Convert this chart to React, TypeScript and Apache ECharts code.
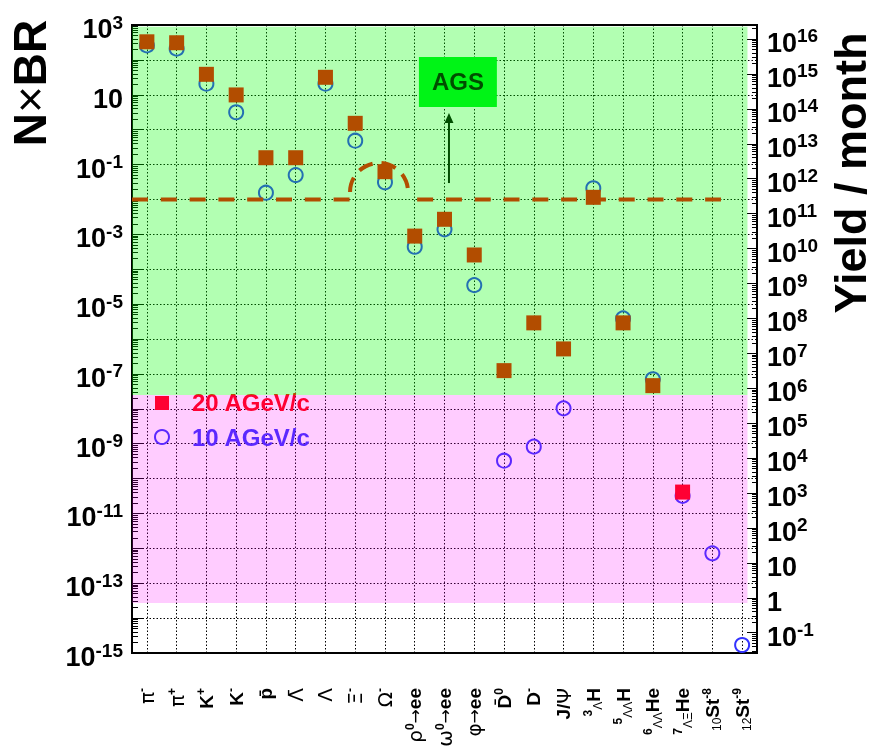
import React, { useEffect, useRef } from 'react';
import * as echarts from 'echarts';

// ---------- data ----------
const categories = ['π⁻', 'π⁺', 'K⁺', 'K⁻', 'p̄', 'Λ̄', 'Λ', 'Ξ⁻', 'Ω⁻', 'ρ⁰→ee', 'ω⁰→ee', 'φ→ee', 'D̄⁰', 'D⁻', 'J/Ψ', '³ΛH', '⁵ΛΛH', '⁶ΛΛHe', '⁷ΛΞHe', '¹⁰St⁻⁸', '¹²St⁻⁹'];

const categoryMarkup = [
  '{g|π}{sp|-}', '{g|π}{sp|+}', '{n|K}{sp|+}', '{n|K}{sp|-}', '{n|p\u0304}', '{g|Λ\u0304}', '{g|Λ}',
  '{g|Ξ}{sp|-}', '{g|Ω}{sp|-}', '{g|ρ}{sp|0}{a|→}{n|ee}', '{g|ω}{sp|0}{a|→}{n|ee}', '{g|φ}{a|→}{n|ee}',
  '{n|D\u0304}{sp|0}', '{n|D}{sp|-}', '{n|J/}{g|Ψ}', '{sp|3}{sb|Λ}{n|H}', '{sp|5}{sb|ΛΛ}{n|H}',
  '{sp|6}{sb|ΛΛ}{n|He}', '{sp|7}{sb|ΛΞ}{n|He}', '{sb|10}{n|St}{sp|-8}', '{sb|12}{n|St}{sp|-9}',
];

// N x BR at 20 AGeV/c (squares)
const nbr20AGeV: (number | null)[] = [330, 310, 38.6, 9.9, 0.157, 0.157, 31.7, 1.52, 0.0625, 8.9e-4, 2.7e-3, 2.56e-4, 1.24e-7, 2.9e-6, 5.2e-7, 0.0115, 2.9e-6, 4.6e-8, 4.1e-11, null, null];
// N x BR at 10 AGeV/c (open circles)
const nbr10AGeV: (number | null)[] = [260, 210, 20.8, 3.15, 0.0156, 0.05, 20.8, 0.483, 0.031, 4.4e-4, 1.39e-3, 3.5e-5, 3.25e-10, 8.2e-10, 1.03e-8, 0.0209, 3.9e-6, 7.0e-8, 3.2e-11, 7.2e-13, 1.7e-15];

const leftLabelExponents = [3, 1, -1, -3, -5, -7, -9, -11, -13, -15];
const rightLabelExponents = [-1, 0, 1, 2, 3, 4, 5, 6, 7, 8, 9, 10, 11, 12, 13, 14, 15, 16];

const thresholdNBR = 1e-2;
const greenBandLow = 2.5e-8;
const pinkBandLow = 2.7e-14;

// ---------- layout ----------
const FONT = '"Liberation Sans", Arial, Helvetica, sans-serif';
const LEFT_RANGE = [-15, 3];
const RIGHT_RANGE = [-1.58, 16.4];
const thresholdSegments = [[0, 7.31], [9.58, 19.79]];

function expLabel(e: number) {
  if (e === 0) return '{b|1}';
  if (e === 1) return '{b|10}';
  return `{b|10}{s|${e}}`;
}

function minorTicks(lo: number, hi: number) {
  const out: number[] = [];
  for (let n = Math.floor(lo) - 1; n <= Math.ceil(hi); n++) {
    for (let k = 2; k <= 9; k++) {
      const t = n + Math.log10(k);
      if (t > lo && t < hi) out.push(t);
    }
  }
  return out;
}

const tickRich = {
  b: { fontSize: 27, fontWeight: 'bold', fontFamily: FONT, color: '#000', lineHeight: 25, padding: [8, 0, 0, 0] },
  s: { fontSize: 19, fontWeight: 'bold', fontFamily: FONT, color: '#000', lineHeight: 18, verticalAlign: 'top' },
};

const gridLineStyle = { color: '#000', width: 1, type: [1.5, 2] as any };

function buildOption() {
  const toE = (v: number | null) => (v == null ? '-' : Math.log10(v));
  return {
    animation: false,
    textStyle: { fontFamily: FONT },
    grid: { left: 132, right: 121, top: 25, bottom: 103, show: true, borderColor: '#000', borderWidth: 2, backgroundColor: 'transparent' },
    xAxis: [
      {
        type: 'category',
        data: categories,
        boundaryGap: true,
        axisLine: { show: false },
        axisTick: { show: false },
        axisLabel: {
          interval: 0,
          rotate: 90,
          margin: 35,
          color: '#000',
          formatter: (_v: string, i: number) => categoryMarkup[i],
          rich: {
            n: { fontSize: 19, fontWeight: 'bold', fontFamily: FONT, color: '#000', lineHeight: 22 },
            g: { fontSize: 20, fontFamily: 'DejaVu Sans, ' + FONT, color: '#000', lineHeight: 22 },
            a: { fontSize: 17, fontFamily: 'DejaVu Sans', color: '#000', lineHeight: 22 },
            sp: { fontSize: 12, fontWeight: 'bold', fontFamily: FONT, color: '#000', lineHeight: 12, verticalAlign: 'top' },
            sb: { fontSize: 12, fontFamily: FONT, color: '#000', lineHeight: 12, verticalAlign: 'bottom' },
          },
        },
        splitLine: { show: true, interval: 0, alignWithLabel: true, lineStyle: gridLineStyle },
      },
      { type: 'value', min: 0, max: 21, show: false },
    ],
    yAxis: [
      {
        type: 'value', min: LEFT_RANGE[0], max: LEFT_RANGE[1], interval: 1, position: 'left',
        axisLine: { show: false },
        axisTick: { show: true, inside: true, length: 12, lineStyle: { color: '#000', width: 1 } },
        axisLabel: {
          margin: 9,
          showMinLabel: true,
          showMaxLabel: true,
          formatter: (v: number) => {
            const e = Math.round(v);
            return leftLabelExponents.includes(e) ? expLabel(e) : '';
          },
          rich: tickRich,
        },
        splitLine: { show: true, lineStyle: gridLineStyle },
      },
      {
        type: 'value', min: RIGHT_RANGE[0], max: RIGHT_RANGE[1], position: 'right',
        axisLine: { show: false },
        axisTick: { show: true, inside: true, length: 10, customValues: rightLabelExponents, lineStyle: { color: '#000', width: 1 } },
        axisLabel: {
          margin: 10,
          showMinLabel: true,
          showMaxLabel: true,
          hideOverlap: false,
          customValues: rightLabelExponents,
          formatter: (v: number) => expLabel(Math.round(v)),
          rich: tickRich,
        },
        splitLine: { show: false },
      },
      {
        type: 'value', min: LEFT_RANGE[0], max: LEFT_RANGE[1], position: 'left',
        axisLine: { show: false }, axisLabel: { show: false }, splitLine: { show: false },
        axisTick: { show: true, inside: true, length: 6, customValues: minorTicks(LEFT_RANGE[0], LEFT_RANGE[1]), lineStyle: { color: '#000', width: 1 } },
      },
      {
        type: 'value', min: RIGHT_RANGE[0], max: RIGHT_RANGE[1], position: 'right',
        axisLine: { show: false }, axisLabel: { show: false }, splitLine: { show: false },
        axisTick: { show: true, inside: true, length: 5, customValues: minorTicks(RIGHT_RANGE[0], RIGHT_RANGE[1]), lineStyle: { color: '#000', width: 1 } },
      },
    ],
    series: [
      {
        name: '10 AGeV/c', type: 'scatter', xAxisIndex: 0, yAxisIndex: 0, z: 2,
        symbol: 'circle', symbolSize: 14,
        itemStyle: { color: 'rgba(0,0,0,0)', borderColor: '#3333ff', borderWidth: 2, opacity: 1 },
        data: nbr10AGeV.map(toE),
      },
      {
        name: '20 AGeV/c', type: 'scatter', xAxisIndex: 0, yAxisIndex: 0, z: 3,
        symbol: 'rect', symbolSize: 15,
        itemStyle: { color: '#ff0000', opacity: 1 },
        data: nbr20AGeV.map(toE),
      },
      ...thresholdSegments.map((seg) => ({
        type: 'line', xAxisIndex: 1, yAxisIndex: 0, z: 3, symbol: 'none', silent: true,
        lineStyle: { color: '#ff0000', width: 4, type: [16, 12.8], cap: 'butt' },
        data: [[seg[0], Math.log10(thresholdNBR)], [seg[1], Math.log10(thresholdNBR)]],
      })),
      {
        type: 'line', xAxisIndex: 1, yAxisIndex: 0, z: 10, silent: true, data: [],
        markArea: {
          silent: true, z: 10, label: { show: false },
          data: [
            [{ coord: [0, 2.95], itemStyle: { color: 'rgba(0,255,0,0.3)' } }, { coord: [20.68, Math.log10(greenBandLow)] }],
            [{ coord: [-0.13, Math.log10(greenBandLow)], itemStyle: { color: 'rgba(255,0,255,0.2)' } }, { coord: [20.68, Math.log10(pinkBandLow)] }],
          ],
        },
      },
    ],
  };
}

export default function App() {
  const ref = useRef<HTMLDivElement>(null);
  useEffect(() => {
    const chart = echarts.init(ref.current!, undefined, { renderer: 'svg' });
    chart.setOption(buildOption() as any);
    const toPx = (x: number, e: number) => chart.convertToPixel({ xAxisIndex: 1, yAxisIndex: 0 } as any, [x, e]) as unknown as number[];

    const agsA = toPx(9.64, 2.083);
    const agsB = toPx(12.26, 0.65);
    const arrowBase = toPx(10.65, -1.53);
    const arrowTip = toPx(10.65, 0.478);
    const arcC = toPx(8.3, -1.786);

    const txt = (text: string, x: number, y: number, size: number, fill: string, z = 3) => ({
      type: 'text', x, y, z,
      style: { text, fontSize: size, fontWeight: 'bold', fontFamily: FONT, fill, align: 'left', verticalAlign: 'middle' },
    });

    chart.setOption({
      graphic: [
        {
          type: 'text', x: 30, y: 83, rotation: Math.PI / 2, z: 20,
          style: {
            text: '{b|N}{x|×}{b|BR}', align: 'center', verticalAlign: 'middle',
            rich: {
              b: { fontSize: 46, fontWeight: 'bold', fontFamily: FONT, fill: '#000' },
              x: { fontSize: 46, fontWeight: 'normal', fontFamily: FONT, fill: '#000' },
            },
          },
        },
        {
          type: 'text', x: 850, y: 173, rotation: Math.PI / 2, z: 20,
          style: { text: 'Yield / month', fontSize: 45, fontWeight: 'bold', fontFamily: FONT, fill: '#000', align: 'center', verticalAlign: 'middle' },
        },
        { type: 'rect', z: 3, shape: { x: agsA[0], y: agsA[1], width: agsB[0] - agsA[0], height: agsB[1] - agsA[1] }, style: { fill: '#00f020' } },
        { type: 'text', z: 4, x: (agsA[0] + agsB[0]) / 2, y: (agsA[1] + agsB[1]) / 2, style: { text: 'AGS', fontSize: 24, fontWeight: 'bold', fontFamily: FONT, fill: '#000', align: 'center', verticalAlign: 'middle' } },
        { type: 'line', z: 3, shape: { x1: arrowBase[0], y1: arrowBase[1], x2: arrowTip[0], y2: arrowTip[1] + 8 }, style: { stroke: '#000', lineWidth: 2 } },
        { type: 'polygon', z: 3, shape: { points: [[arrowTip[0], arrowTip[1]], [arrowTip[0] - 4.5, arrowTip[1] + 10], [arrowTip[0] + 4.5, arrowTip[1] + 10]] }, style: { fill: '#000' } },
        { type: 'arc', z: 3, shape: { cx: arcC[0], cy: arcC[1], r: 29, startAngle: Math.PI, endAngle: Math.PI * 2, clockwise: true }, style: { stroke: '#ff0000', lineWidth: 4, fill: null, lineDash: [15, 9] } },
        { type: 'rect', z: 3, shape: { x: 155, y: 396, width: 14, height: 14 }, style: { fill: '#ff0000' } },
        txt('20 AGeV/c', 192, 402, 24, '#ff0000'),
        { type: 'circle', z: 3, shape: { cx: 162, cy: 437, r: 7 }, style: { stroke: '#3333ff', lineWidth: 2, fill: null } },
        txt('10 AGeV/c', 192, 437, 24, '#3333ff'),
      ],
    } as any);
    return () => chart.dispose();
  }, []);
  return <div ref={ref} style={{ position: 'fixed', left: 0, top: 0, width: 878, height: 756 }} />;
}
